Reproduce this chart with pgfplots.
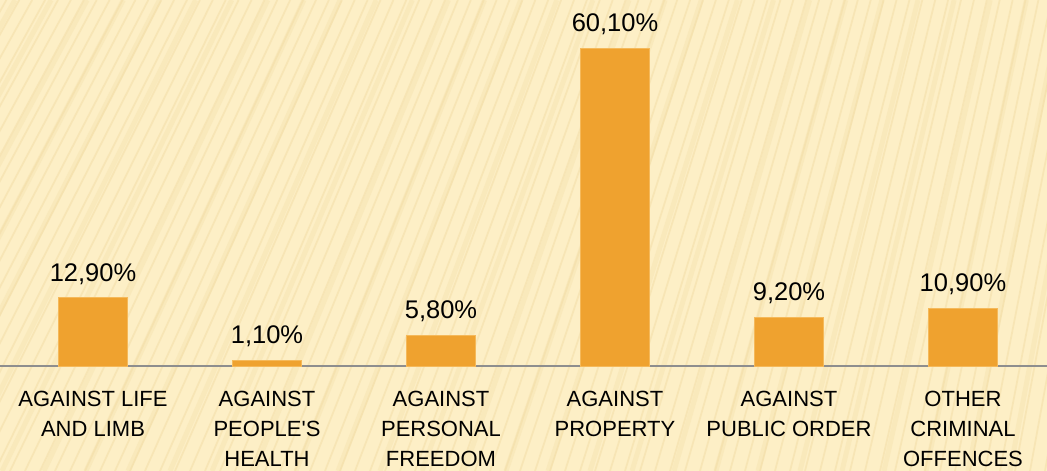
\documentclass[border=0pt]{standalone}
\usepackage{fontspec}
\setmainfont{Liberation Sans}[Ligatures=TeXOff]
\usepackage{pgfplots}
\pgfplotsset{compat=1.18}
\definecolor{bg}{HTML}{FDEFC6}
\definecolor{stripe}{HTML}{F1DBA2}
\definecolor{bar}{HTML}{EFA22F}
\definecolor{baredge}{HTML}{F5B95A}
\definecolor{axisgray}{HTML}{8E8E8E}

\begin{document}
\begin{tikzpicture}[x=1pt,y=1pt]
  \useasboundingbox (0,-105) rectangle (1047,366);
  \fill[bg] (0,-105) rectangle (1047,366);
  \begin{scope}
    \clip (0,-105) rectangle (1047,366);
    % fan of faint diagonal stripes, steeper towards the right
    \foreach \i in {-260,-245,...,1100} {
      \pgfmathsetmacro\dx{230-0.14*\i}
      \draw[stripe, line width=1.8pt, opacity=0.45] (\i,-105) -- ++(\dx,471);
    }
    \foreach \i in {-250,-208,...,1100} {
      \pgfmathsetmacro\dx{230-0.14*\i}
      \draw[stripe, line width=5pt, opacity=0.28] (\i,-105) -- ++(\dx,471);
    }
  \end{scope}
  \begin{axis}[
      at={(0,0)}, anchor=south west,
      scale only axis,
      width=1047pt, height=366pt,
      xmin=-0.5345, xmax=5.483,
      ymin=0, ymax=69.2,
      ybar, bar width=69pt,
      axis x line*=bottom,
      hide y axis,
      x axis line style={draw=axisgray, line width=1.3pt, -},
      major tick length=0pt,
      xtick=data,
      xticklabels={{AGAINST LIFE\\AND LIMB},
                   {AGAINST\\PEOPLE'S\\HEALTH},
                   {AGAINST\\PERSONAL\\FREEDOM},
                   {AGAINST\\PROPERTY},
                   {AGAINST\\PUBLIC ORDER},
                   {OTHER\\CRIMINAL\\OFFENCES}},
      xticklabel style={font=\fontsize{22}{30}\selectfont, align=center,
                        anchor=north, yshift=-21.5pt, text=black},
      nodes near coords,
      point meta=explicit symbolic,
      nodes near coords style={font=\fontsize{25.5}{30}\selectfont, anchor=south,
                               text depth=0pt, yshift=12.7pt, text=black},
    ]
    \addplot[fill=bar, draw=baredge, line width=0.8pt] coordinates {
      (0,12.9) [12,90\%]
      (1,1.1)  [1,10\%]
      (2,5.8)  [5,80\%]
      (3,60.1) [60,10\%]
      (4,9.2)  [9,20\%]
      (5,10.9) [10,90\%]
    };
  \end{axis}
\end{tikzpicture}
\end{document}
